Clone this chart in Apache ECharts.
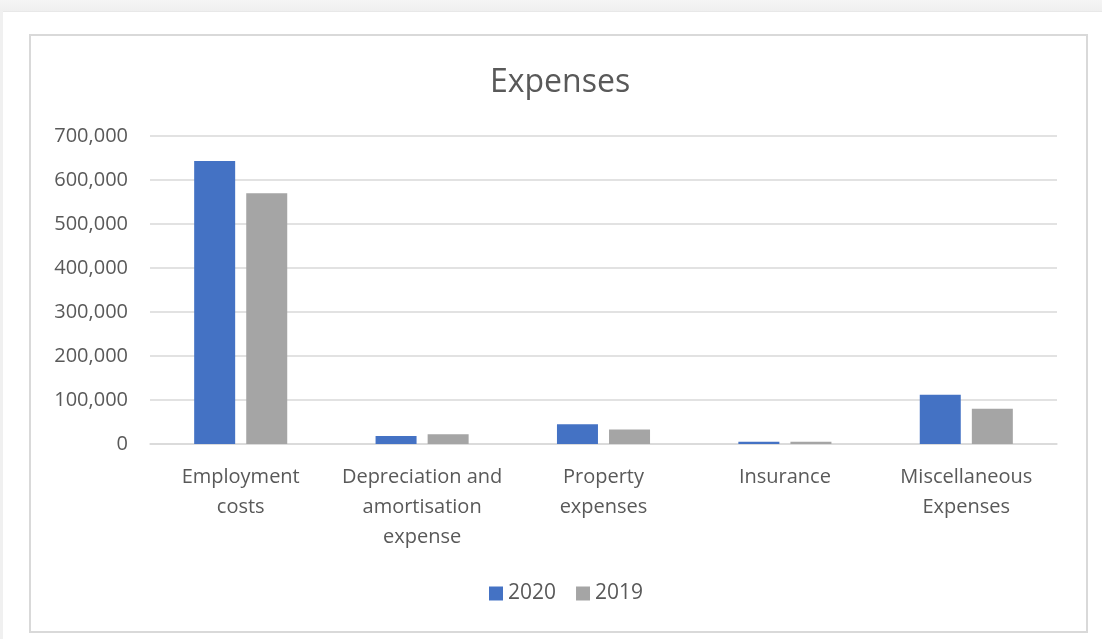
<!DOCTYPE html>
<html>
<head>
<meta charset="utf-8">
<title>Expenses</title>
<script src="https://cdn.jsdelivr.net/npm/echarts@6/dist/echarts.min.js"></script>
<style>
  html, body { margin: 0; padding: 0; background: #ffffff; }
  #topband { position: absolute; left: 0; top: 0; width: 1102px; height: 11px;
             background: linear-gradient(#f5f5f5, #efefef); border-bottom: 1px solid #e8e8e8; }
  #leftband { position: absolute; left: 0; top: 11px; width: 3px; height: 628px; background: #f0f0f0; }
  #chart { position: absolute; left: 0; top: 0; width: 1102px; height: 639px; }
</style>
</head>
<body>
<div id="topband"></div>
<div id="leftband"></div>
<div id="chart"></div>
<script>
// Expense categories (line breaks as shown under the axis)
const categories = [
  'Employment\ncosts',
  'Depreciation and\namortisation\nexpense',
  'Property\nexpenses',
  'Insurance',
  'Miscellaneous\nExpenses'
];
const seriesNames = ['2020', '2019'];
const values2020 = [643000, 18000, 45000, 5000, 112000];
const values2019 = [570000, 22000, 33000, 5000, 80000];
const yTicks = { min: 0, max: 700000, interval: 100000 };

const textColor = '#595959';
const fontFamily = '"Open Sans", "Noto Sans", sans-serif';

const chart = echarts.init(document.getElementById('chart'), null, { renderer: 'canvas' });

chart.setOption({
  backgroundColor: 'transparent',
  animation: false,
  graphic: [{
    type: 'rect',
    shape: { x: 30, y: 35, width: 1057, height: 597 },
    style: { fill: '#ffffff', stroke: '#d9d9d9', lineWidth: 2 },
    z: -10
  }],
  title: {
    text: 'Expenses',
    left: 485,
    top: 62,
    textStyle: { fontFamily, fontSize: 32, fontWeight: 'normal', color: textColor }
  },
  legend: {
    data: seriesNames,
    left: 484,
    top: 578,
    itemWidth: 14,
    itemHeight: 14,
    itemGap: 20,
    icon: 'rect',
    textStyle: { fontFamily, fontSize: 21, color: textColor, padding: [0, 0, 0, 0] }
  },
  grid: { left: 150, right: 45, top: 136, bottom: 195, containLabel: false },
  xAxis: {
    type: 'category',
    data: categories,
    axisLine: { show: true, lineStyle: { color: '#d9d9d9', width: 1.5 } },
    axisTick: { show: false },
    axisLabel: {
      interval: 0,
      margin: 18,
      fontFamily, fontSize: 20, color: textColor, lineHeight: 30, align: 'center'
    }
  },
  yAxis: {
    type: 'value',
    min: yTicks.min,
    max: yTicks.max,
    interval: yTicks.interval,
    axisLine: { show: false },
    axisTick: { show: false },
    splitLine: { lineStyle: { color: '#d9d9d9', width: 1.5 } },
    axisLabel: {
      margin: 22,
      fontFamily, fontSize: 20, color: textColor,
      formatter: v => v.toLocaleString('en-US')
    }
  },
  series: [
    {
      name: seriesNames[0], type: 'bar', data: values2020,
      barWidth: 41, barGap: '27%',
      itemStyle: { color: '#4472C4' }
    },
    {
      name: seriesNames[1], type: 'bar', data: values2019,
      barWidth: 41, barGap: '27%',
      itemStyle: { color: '#A5A5A5' }
    }
  ]
});
</script>
</body>
</html>
